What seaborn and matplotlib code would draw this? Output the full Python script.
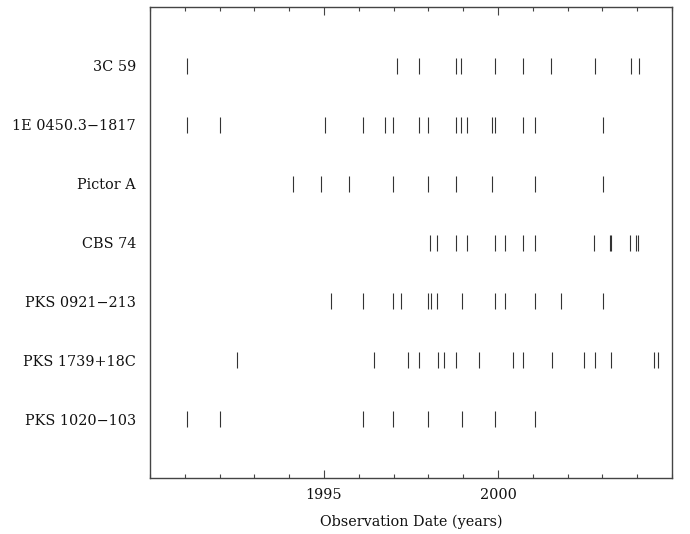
import matplotlib
matplotlib.use("Agg")
import matplotlib.pyplot as plt
from matplotlib.ticker import MultipleLocator
import seaborn as sns
import pandas as pd

sources = ["3C 59", "1E 0450.3\u22121817", "Pictor A", "CBS 74",
           "PKS 0921\u2212213", "PKS 1739+18C", "PKS 1020\u2212103"]

dates_3c59 = [1991.06, 1997.10, 1997.72, 1998.78, 1998.94, 1999.92, 2000.73,
              2001.53, 2002.78, 2003.82, 2004.04]
dates_1e0450 = [1991.06, 1992.02, 1995.03, 1996.11, 1996.76, 1996.97, 1997.72,
                1997.98, 1998.78, 1998.93, 1999.10, 1999.82, 1999.92, 2000.73,
                2001.05, 2003.02]
dates_pictor = [1994.10, 1994.91, 1995.73, 1996.99, 1997.99, 1998.79, 1999.82,
                2001.06, 2003.02]
dates_cbs74 = [1998.04, 1998.26, 1998.78, 1999.10, 1999.92, 2000.19, 2000.73,
               2001.06, 2002.77, 2003.22, 2003.25, 2003.80, 2003.96, 2004.02]
dates_pks0921 = [1995.20, 1996.11, 1996.99, 1997.20, 1998.00, 1998.07, 1998.26,
                 1998.96, 1999.90, 2000.19, 2001.06, 2001.81, 2003.02]
dates_pks1739 = [1992.49, 1996.43, 1997.42, 1997.72, 1998.27, 1998.45, 1998.78,
                 1999.45, 2000.42, 2000.73, 2001.54, 2002.46, 2002.78, 2003.25,
                 2004.48, 2004.59]
dates_pks1020 = [1991.06, 1992.02, 1996.11, 1996.99, 1998.00, 1998.96, 1999.92,
                 2001.06]

all_dates = [dates_3c59, dates_1e0450, dates_pictor, dates_cbs74,
             dates_pks0921, dates_pks1739, dates_pks1020]

rows = []
for name, ds in zip(sources, all_dates):
    for d in ds:
        rows.append({"source": name, "date": d})
df = pd.DataFrame(rows)

sns.set_theme(style="white")
plt.rcParams["font.family"] = ["DejaVu Serif"]

fig = plt.figure(figsize=(6.9, 5.34), dpi=100)
ax = fig.add_axes([150 / 690, 1 - 478 / 534, (672 - 150) / 690, (478 - 7) / 534])

ink = "#333333"
sns.scatterplot(data=df, x="date", y="source", marker="|", s=120,
                color=ink, linewidth=0.8, ax=ax, legend=False)

ax.set_xlim(1990, 2005)
ax.set_ylim(7, -1)
ax.set_yticks(range(len(sources)))
ax.set_yticklabels(sources, fontsize=10.4, color="#111111")

ax.xaxis.set_major_locator(MultipleLocator(5))
ax.xaxis.set_minor_locator(MultipleLocator(1))
ax.tick_params(axis="x", which="major", direction="in", length=5.5, width=0.8,
               top=True, bottom=True, color="#444444", labelsize=10.4,
               pad=7, labelcolor="#111111")
ax.tick_params(axis="x", which="minor", direction="in", length=3, width=0.8,
               top=True, bottom=True, color="#444444")
ax.tick_params(axis="y", which="both", length=0, pad=10)

ax.set_xticks([1995, 2000])
ax.set_xticklabels(["1995", "2000"])
ax.set_xlabel("Observation Date (years)", fontsize=10.4, labelpad=9,
              color="#111111")
ax.set_ylabel("")

for sp in ax.spines.values():
    sp.set_visible(True)
    sp.set_color("#444444")
    sp.set_linewidth(1.0)

fig.savefig("out.png", dpi=100, facecolor="white")
